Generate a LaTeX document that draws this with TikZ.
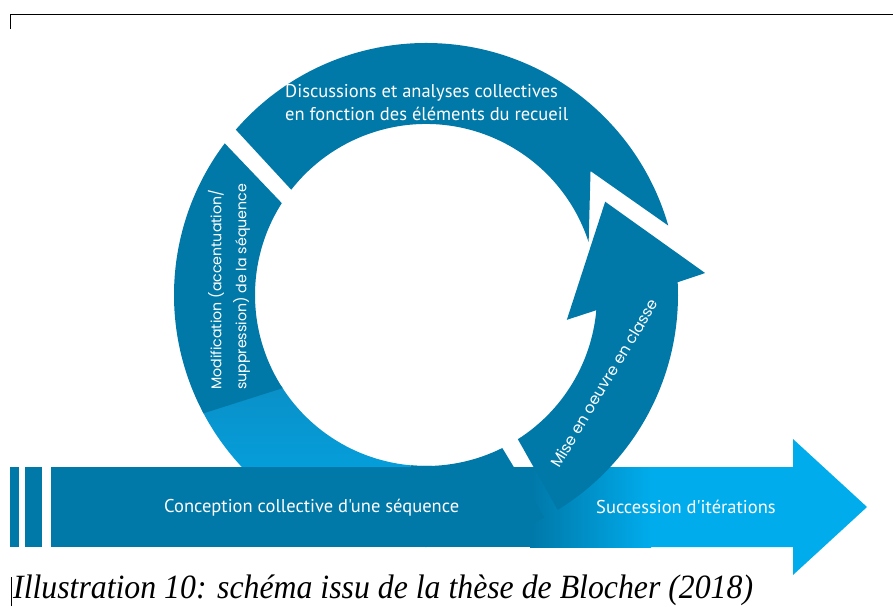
\documentclass[tikz,border=0pt]{standalone}
\usepackage{fontspec}
\setmainfont{Liberation Serif}
\newfontfamily\dinfont{PT Sans}
\newfontfamily\geofont{Poppins}
\newfontfamily\capfont[FakeStretch=0.935]{Liberation Serif}
\definecolor{ringblue}{RGB}{0,120,168}
\definecolor{skyblue}{RGB}{0,172,236}
\definecolor{midblue}{RGB}{10,144,200}

\begin{document}
\begin{tikzpicture}[x=1pt,y=1pt]
    \useasboundingbox (0,0) rectangle (893,606);

    \tikzset{ringpart/.style={fill=ringblue,draw=none}}
    \tikzset{dinlabel/.style={text=white,inner sep=0,align=left,font=\dinfont\fontsize{18.5}{23}\selectfont}}
    \tikzset{geolabel/.style={text=white,inner sep=0,align=left,font=\geofont\fontsize{14.2}{25}\selectfont}}

    \draw[line width=0.8] (10,577) -- (10,592) -- (893,592);
    \draw[line width=0.8] (11,0) -- (11,29);

    % light part of the loop, under the bar
    \begin{scope}[shift={(426,311)}]
        \shade[top color=midblue,bottom color=skyblue] (207:252) arc[start angle=207,end angle=272,radius=252]
            -- (272:171) arc[start angle=272,end angle=212,radius=171] -- cycle;
    \end{scope}

    \fill[ringblue] (10,59) rectangle (19,139);
    \fill[ringblue] (25,59) rectangle (42,139);
    \fill[ringblue] (51,59) rectangle (531,139);
    \shade[left color=ringblue,right color=skyblue] (530,59) rectangle (651,139);
    \fill[skyblue] (650,59) -- (793,59) -- (793,31) -- (867,99) -- (793,167) -- (793,139) -- (650,139) -- cycle;

    \begin{scope}[shift={(426,311)}]
        \fill[ringpart] (-63.5:171) arc[start angle=-63.5,end angle=-95,radius=171]
            -- (-95:252) arc[start angle=-95,end angle=-62,radius=252] -- cycle;
        \fill[ringpart] (-57.5:171) -- (-58.5:252) arc[start angle=-58.5,end angle=2.9,radius=252]
            -- (4.5:280) -- (27.5:202) -- (-10:143) -- (-5.1:171) arc[start angle=-5.1,end angle=-57.5,radius=171] -- cycle;
        \fill[ringpart] (142:171) -- (139:252) arc[start angle=139,end angle=16,radius=252]
            -- (37:206) -- (18:171) arc[start angle=18,end angle=142,radius=171] -- cycle;
        \fill[ringpart] (147.5:171) -- (143:252) arc[start angle=143,end angle=208,radius=252]
            -- (213:171) arc[start angle=213,end angle=147.5,radius=171] -- cycle;
    \end{scope}

    \node[dinlabel,anchor=west] (discussion) at (285,503) {Discussions et analyses collectives\\en fonction des éléments du recueil};
    \node[geolabel,rotate=90,anchor=west] (modification) at (229,216) {Modification (accentuation/\\suppression) de la séquence};
    \node[geolabel,rotate=59,font=\geofont\fontsize{15.5}{25}\selectfont] (miseenoeuvre) at (604,223) {Mise en oeuvre en classe};
    \node[dinlabel,anchor=west] (conception) at (164,98) {Conception collective d'une séquence};
    \node[dinlabel,anchor=west] (succession) at (596,99) {Succession d'itérations};

    \node[anchor=base west,inner sep=0,font=\capfont\itshape\fontsize{34}{36}\selectfont] (caption) at (13,8) {Illustration 10: schéma issu de la thèse de Blocher (2018)};
\end{tikzpicture}
\end{document}
